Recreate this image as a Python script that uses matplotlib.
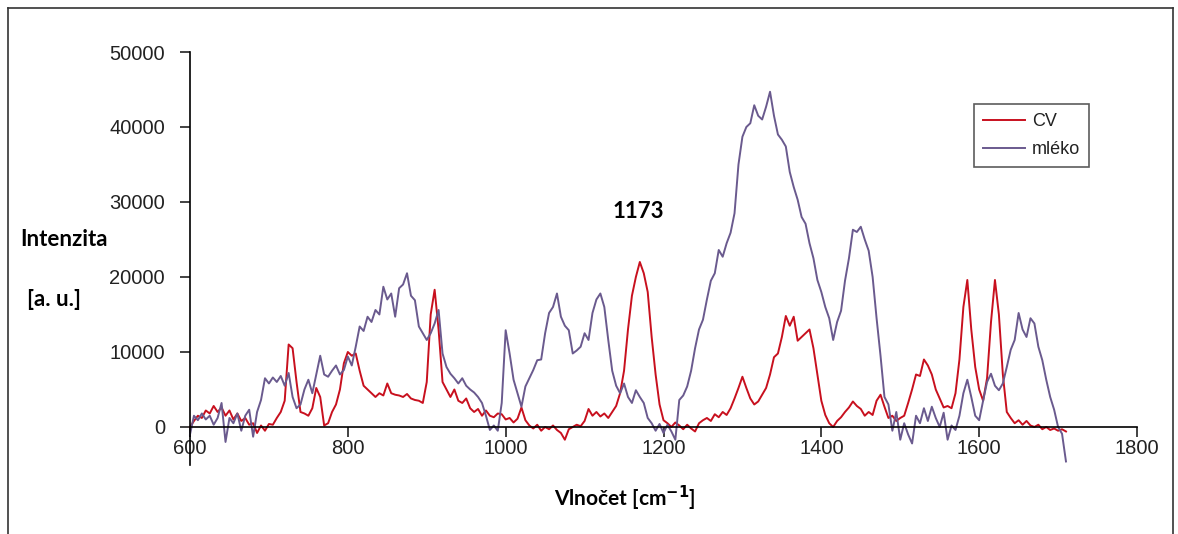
import numpy as np
import matplotlib.pyplot as plt
from matplotlib.lines import Line2D

plt.rcParams['font.family'] = ['Liberation Sans', 'DejaVu Sans']

# Raman spectra, wavenumber step 5 cm-1
wn = np.arange(600, 1715, 5)

cv = [0, 800, 1500, 1200, 2200, 1800, 2800, 2000, 2600, 1500,
      2200, 1000, 1800, 800, 1200, 300, 500, -800, 200, -500,
      400, 300, 1200, 2000, 3500, 11000, 10500, 6000, 2000, 1800,
      1500, 2500, 5200, 4000, 200, 500, 2000, 3000, 5000, 8500,
      10000, 9500, 9800, 7500, 5500, 5000, 4500, 4000, 4500, 4200,
      5800, 4500, 4300, 4200, 4000, 4400, 3800, 3600, 3500, 3200,
      6000, 15000, 18300, 13000, 6000, 5000, 4000, 5000, 3500, 3200,
      3800, 2500, 2000, 2400, 1500, 2200, 1500, 1300, 1800, 1700,
      1000, 1200, 600, 1100, 2600, 900, 200, -200, 300, -500,
      0, -300, 200, -400, -800, -1700, -300, 0, 300, 100,
      800, 2400, 1500, 2000, 1400, 1800, 1200, 2000, 2800, 4500,
      7500, 13000, 17500, 20000, 22000, 20500, 18000, 12000, 7000, 3000,
      900, 500, 0, 600, 200, -300, 300, -200, -600, 500,
      900, 1200, 800, 1700, 1300, 2000, 1600, 2500, 3800, 5200,
      6700, 5200, 3800, 3000, 3400, 4300, 5200, 7000, 9300, 9800,
      12000, 14800, 13500, 14700, 11500, 12000, 12500, 13000, 10500, 7000,
      3500, 1600, 500, 0, 800, 1300, 2000, 2600, 3400, 2800,
      2400, 1500, 2000, 1600, 3500, 4300, 2700, 1200, 1500, 800,
      1200, 1500, 3200, 5000, 7000, 6800, 9000, 8200, 7000, 5000,
      3800, 2600, 2800, 2500, 4500, 9000, 16000, 19600, 13000, 8000,
      5000, 3500, 6500, 14000, 19600, 15000, 7000, 2000, 1200, 500,
      900, 300, 800, 200, 0, 300, -300, 0, -400, -200,
      -500, -300, -600]

mleko = [-1000, 1500, 900, 1800, 1000, 1500, 300, 1200, 3200, -2000,
         1200, 500, 1800, -500, 1500, 2300, -1300, 2000, 3600, 6500,
         5800, 6600, 6000, 6800, 5500, 7200, 4000, 2500, 3000, 5000,
         6300, 4500, 7000, 9500, 7000, 6700, 7500, 8200, 7000, 7600,
         9400, 8200, 10700, 13400, 12800, 14700, 14000, 15600, 15000, 18700,
         17000, 17800, 14700, 18500, 19000, 20500, 17500, 16900, 13400, 12500,
         11600, 12500, 13800, 15600, 9800, 8000, 7100, 6500, 5800, 6500,
         5500, 5000, 4600, 4000, 3200, 1500, -400, 200, -500, 3200,
         12900, 9800, 6300, 4500, 2700, 5400, 6500, 7600, 8900, 9000,
         12500, 15200, 16000, 17800, 14700, 13500, 12900, 9800, 10200, 10700,
         12500, 11600, 15200, 17000, 17800, 16000, 11600, 7500, 5500, 4500,
         5800, 4000, 3200, 4900, 4000, 3200, 1200, 500, -500, 400,
         -800, 300, -600, -1700, 3600, 4200, 5400, 7500, 10500, 13000,
         14300, 17000, 19500, 20500, 23600, 22700, 24500, 25900, 28500, 35000,
         38700, 40000, 40500, 42900, 41500, 41000, 42700, 44700, 41500, 39000,
         38300, 37400, 34000, 32000, 30300, 28000, 27100, 24500, 22500, 19600,
         18000, 16000, 14500, 11600, 14000, 15500, 19500, 22500, 26300, 26000,
         26700, 25000, 23500, 20000, 14500, 9500, 4000, 3000, -500, 2000,
         -1700, 500, -1000, -2200, 1500, 500, 2500, 800, 2700, 1200,
         0, 1900, -1700, 200, -400, 1500, 4500, 6300, 4000, 1500,
         900, 3500, 6000, 7100, 5500, 4900, 5800, 8000, 10300, 11600,
         15200, 13000, 12000, 14500, 13800, 10700, 8900, 6300, 4000, 2300,
         0, -900, -4600]

fig = plt.figure(figsize=(11.78, 5.34), dpi=100)
ax = fig.add_axes([190/1178, 1 - 465/534, (1137 - 190)/1178, (465 - 52)/534])

ax.plot(wn, cv, color='#c8101e', lw=1.4, label='CV', clip_on=False)
ax.plot(wn, mleko, color='#6a5a8e', lw=1.4, label='mléko', clip_on=False)

ax.set_xlim(600, 1800)
ax.set_ylim(-5070, 50000)
ax.set_xticks(np.arange(600, 1801, 200))
ax.set_yticks(np.arange(0, 50001, 10000))

ax.spines['top'].set_visible(False)
ax.spines['right'].set_visible(False)
ax.spines['bottom'].set_position(('data', 0))
ax.spines['left'].set_linewidth(1.2)
ax.spines['bottom'].set_linewidth(1.2)
ax.tick_params(axis='both', direction='out', length=7, width=1.2,
               labelsize=14.5, colors='#222222')
ax.tick_params(axis='x', pad=2)
ax.tick_params(axis='y', pad=11)

ax.text(1168, 28700, '1173', fontsize=16, fontweight='bold',
        family='Lato', ha='center', va='center')

fig.text(20/1178, 1 - 240/534, 'Intenzita', fontsize=16, fontweight='bold',
         family='Lato', ha='left', va='center')
fig.text(27/1178, 1 - 300/534, '[a. u.]', fontsize=16, fontweight='bold',
         family='Lato', ha='left', va='center')
fig.text(625/1178, 1 - 498/534, r'Vlnočet [cm$^{\mathbf{-1}}$]', fontsize=15,
         fontweight='bold', family='Lato', ha='center', va='center')

leg = ax.legend(loc='upper left', bbox_to_anchor=((974 - 190)/947, (465 - 104)/413),
                frameon=True, fancybox=False, edgecolor='#333333',
                fontsize=13, handlelength=2.3, handletextpad=0.4,
                borderpad=0.5, labelspacing=0.6, borderaxespad=0)
leg.get_frame().set_linewidth(1.2)
for t in leg.get_texts():
    t.set_color('#222222')

# outer frame (open at the bottom)
fc = '#333333'
fig.add_artist(Line2D([8/1178, 8/1178], [0, 1 - 8/534], color=fc, lw=1.2))
fig.add_artist(Line2D([8/1178, 1173/1178], [1 - 8/534, 1 - 8/534], color=fc, lw=1.2))
fig.add_artist(Line2D([1173/1178, 1173/1178], [0, 1 - 8/534], color=fc, lw=1.2))

fig.savefig('out.png', dpi=100)
